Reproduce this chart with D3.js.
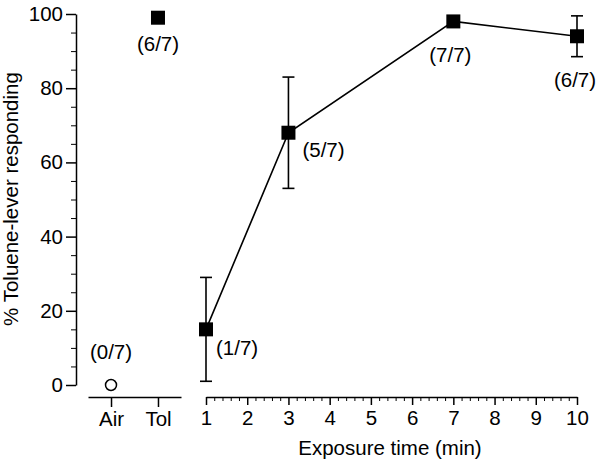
<!DOCTYPE html>
<html><head><meta charset="utf-8">
<script src="https://cdn.jsdelivr.net/npm/d3@7"></script>
<style>
body{margin:0;background:#fff;}
svg text{font-family:"Liberation Sans",Arial,Helvetica,sans-serif;fill:#000;}
</style></head>
<body><svg id="c" width="600" height="471"></svg>
<script>
// Data
const controlCats = ["Air","Tol"];
const controlVals = [0, 99];
const controlLabels = ["(0/7)","(6/7)"];
const times = [1, 3, 7, 10];
const timeVals = [15, 68, 98, 94];
const timeErr = [14, 15, 0, 5.5];
const timeLabels = ["(1/7)","(5/7)","(7/7)","(6/7)"];
const yTicks = [0,20,40,60,80,100];
const xTicks = [1,2,3,4,5,6,7,8,9,10];

const svg = d3.select("#c");
const y = d3.scaleLinear().domain([0,100]).range([385,14]);
const x = d3.scaleLinear().domain([1,10]).range([206,577]);
const c = d3.scalePoint().domain(controlCats).range([88,181]).padding(0.49);
const FS = 20.5;

// Y axis
const yAxis = d3.axisLeft(y).tickValues(yTicks).tickSize(10).tickSizeOuter(0);
const gy = svg.append("g").attr("transform","translate(76,0)").call(yAxis);
gy.selectAll("text").attr("font-size",FS).attr("x",-13);
gy.selectAll("path,line").attr("stroke","#000").attr("stroke-width",1.5);
const gym = gy.append("g").call(d3.axisLeft(y).tickValues(d3.range(0,101,5).filter(v=>v%20)).tickSize(5).tickFormat(""));
gym.select(".domain").remove();
gym.selectAll("line").attr("stroke","#000").attr("stroke-width",1);
gy.attr("font-size",null).attr("font-family",null);

// Category axis
const gc = svg.append("g").attr("transform","translate(0,397)").call(d3.axisBottom(c).tickSize(10).tickSizeOuter(0));
gc.selectAll("text").attr("font-size",FS).attr("y",14);
gc.selectAll("path,line").attr("stroke","#000").attr("stroke-width",1.5);
gc.attr("font-size",null).attr("font-family",null);

// Time axis
const gx = svg.append("g").attr("transform","translate(0,397)").call(d3.axisBottom(x).tickValues(xTicks).tickSize(8).tickSizeOuter(0));
gx.selectAll("text").attr("font-size",FS).attr("y",13);
gx.selectAll("path,line").attr("stroke","#000").attr("stroke-width",1.5);
const gxm = gx.append("g").call(d3.axisBottom(x).tickValues(d3.range(1,10.01,0.2).filter(v=>Math.abs(v-Math.round(v))>0.01)).tickSize(4).tickFormat(""));
gxm.select(".domain").remove();
gxm.selectAll("line").attr("stroke","#000").attr("stroke-width",1);
gx.attr("font-size",null).attr("font-family",null);

// Axis titles
svg.append("text").attr("transform","translate(18,199) rotate(-90)").attr("text-anchor","middle").attr("font-size",FS).text("% Toluene-lever responding");
svg.append("text").attr("x",390).attr("y",455).attr("text-anchor","middle").attr("font-size",FS).text("Exposure time (min)");

// Control points
const S = 14;
svg.append("circle").attr("cx",c("Air")).attr("cy",y(controlVals[0])).attr("r",5.5).attr("fill","#fff").attr("stroke","#000").attr("stroke-width",1.5);
svg.append("rect").attr("x",c("Tol")-S/2).attr("y",y(controlVals[1])-S/2).attr("width",S).attr("height",S).attr("fill","#000");
svg.append("text").attr("x",c("Air")).attr("y",y(controlVals[0])-26).attr("text-anchor","middle").attr("font-size",FS).text(controlLabels[0]);
svg.append("text").attr("x",c("Tol")).attr("y",y(controlVals[1])+33).attr("text-anchor","middle").attr("font-size",FS).text(controlLabels[1]);

// Time series
const pts = times.map((t,i)=>({t, v:timeVals[i], e:timeErr[i], l:timeLabels[i]}));
svg.append("path").datum(pts).attr("fill","none").attr("stroke","#000").attr("stroke-width",1.6)
  .attr("d", d3.line().x(d=>x(d.t)).y(d=>y(d.v)));
const eb = svg.append("g").selectAll("g").data(pts.filter(d=>d.e>0)).join("g").attr("stroke","#000").attr("stroke-width",1.6);
eb.append("line").attr("x1",d=>x(d.t)).attr("x2",d=>x(d.t)).attr("y1",d=>y(d.v+d.e)).attr("y2",d=>y(d.v-d.e));
eb.append("line").attr("x1",d=>x(d.t)-6).attr("x2",d=>x(d.t)+6).attr("y1",d=>y(d.v+d.e)).attr("y2",d=>y(d.v+d.e));
eb.append("line").attr("x1",d=>x(d.t)-6).attr("x2",d=>x(d.t)+6).attr("y1",d=>y(d.v-d.e)).attr("y2",d=>y(d.v-d.e));
svg.append("g").selectAll("rect").data(pts).join("rect")
  .attr("x",d=>x(d.t)-S/2).attr("y",d=>y(d.v)-S/2).attr("width",S).attr("height",S).attr("fill","#000");

// Point labels: offsets
const lblOff = [{dx:10,dy:26,a:"start"},{dx:14,dy:24,a:"start"},{dx:-3,dy:41,a:"middle"},{dx:-2,dy:51,a:"middle"}];
svg.append("g").selectAll("text").data(pts).join("text")
  .attr("x",(d,i)=>x(d.t)+lblOff[i].dx).attr("y",(d,i)=>y(d.v)+lblOff[i].dy)
  .attr("text-anchor",(d,i)=>lblOff[i].a).attr("font-size",FS).text(d=>d.l);
</script></body></html>
